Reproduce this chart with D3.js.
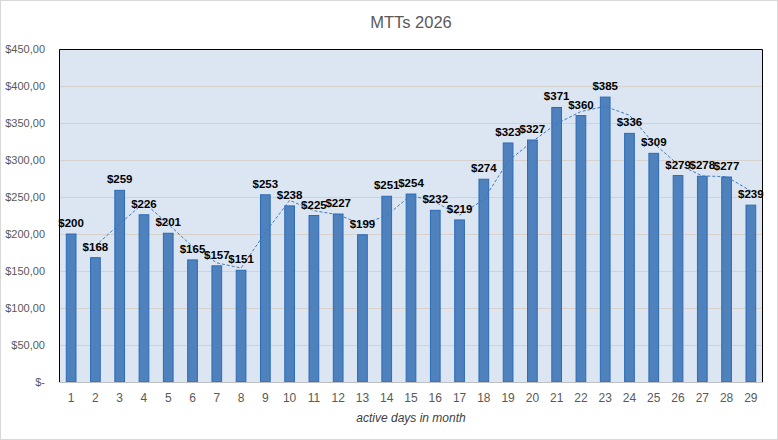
<!DOCTYPE html>
<html>
<head>
<meta charset="utf-8">
<script src="https://cdn.jsdelivr.net/npm/d3@7"></script>
<style>
  body { margin: 0; background: #fff; }
  text { font-family: "Liberation Sans", Arial, sans-serif; }
</style>
</head>
<body>
<svg id="chart" width="778" height="440"></svg>
<script>
// chart values
const days = [1, 2, 3, 4, 5, 6, 7, 8, 9, 10, 11, 12, 13, 14, 15, 16, 17, 18, 19, 20, 21, 22, 23, 24, 25, 26, 27, 28, 29];
const mtt = [200, 168, 259, 226, 201, 165, 157, 151, 253, 238, 225, 227, 199, 251, 254, 232, 219, 274, 323, 327, 371, 360, 385, 336, 309, 279, 278, 277, 239];
// dashed trend (2 day moving average), starts on day 2
const trendDays = [2, 3, 4, 5, 6, 7, 8, 9, 10, 11, 12, 13, 14, 15, 16, 17, 18, 19, 20, 21, 22, 23, 24, 25, 26, 27, 28, 29];
const trend = [184, 213.5, 242.5, 213.5, 183, 161, 154, 202, 245.5, 231.5, 226, 213, 225, 252.5, 243, 225.5, 246.5, 298.5, 325, 349, 365.5, 372.5, 360.5, 322.5, 294, 278.5, 277.5, 258];
const yTicks = [0, 50, 100, 150, 200, 250, 300, 350, 400, 450];

const svg = d3.select('#chart');
const width = +svg.attr('width');
const height = +svg.attr('height');

const plot = {left: 59, top: 49, right: 763, bottom: 382};

const x = d3.scaleBand()
    .domain(days)
    .range([plot.left, plot.right])
    .paddingInner(0.6)
    .paddingOuter(0.3);

const y = d3.scaleLinear()
    .domain([0, 450])
    .range([plot.bottom, plot.top]);

// outer chart border
svg.append('rect')
    .attr('x', 0.5).attr('y', 0.5)
    .attr('width', width - 1).attr('height', height - 1)
    .attr('fill', '#fff')
    .attr('stroke', '#d9d9d9');

// plot area background
svg.append('rect')
    .attr('x', plot.left).attr('y', plot.top)
    .attr('width', plot.right - plot.left)
    .attr('height', plot.bottom - plot.top)
    .attr('fill', '#dce6f2');

// gridlines + y labels
const yAxis = d3.axisLeft(y)
    .tickValues(yTicks)
    .tickSize(-(plot.right - plot.left))
    .tickPadding(14)
    .tickFormat(d => d === 0 ? '$-' : '$' + d3.format('.2f')(d).replace('.', ','));

const yG = svg.append('g')
    .attr('transform', `translate(${plot.left},0)`)
    .call(yAxis);
yG.select('.domain').remove();
yG.selectAll('line').attr('stroke', '#d6d1cc').attr('stroke-width', 1);
yG.selectAll('text')
    .attr('fill', '#595959')
    .attr('font-size', 11);

// bars
svg.append('g')
    .selectAll('rect')
    .data(mtt)
    .enter()
    .append('rect')
    .attr('x', (d, i) => x(days[i]))
    .attr('y', d => y(d))
    .attr('width', x.bandwidth())
    .attr('height', d => y(0) - y(d))
    .attr('fill', '#4f81bd')
    .attr('stroke', '#2a6bb8')
    .attr('stroke-width', 1);

// trend line
const trendLine = d3.line()
    .x((d, i) => x(trendDays[i]) + x.bandwidth() / 2)
    .y(d => y(d));

svg.append('path')
    .datum(trend)
    .attr('d', trendLine)
    .attr('fill', 'none')
    .attr('stroke', '#3f78bf')
    .attr('stroke-width', 1)
    .attr('stroke-dasharray', '3,2');

// value labels
svg.append('g')
    .selectAll('text')
    .data(mtt)
    .enter()
    .append('text')
    .attr('x', (d, i) => x(days[i]) + x.bandwidth() / 2)
    .attr('y', d => y(d) - 7)
    .attr('text-anchor', 'middle')
    .attr('font-size', 11.5)
    .attr('font-weight', 'bold')
    .attr('fill', '#000')
    .text(d => '$' + d);

// plot border: black on left/top/right, gray baseline
svg.append('path')
    .attr('d', `M${plot.left + 0.5},${plot.bottom} V${plot.top + 0.5} H${plot.right - 0.5} V${plot.bottom}`)
    .attr('fill', 'none')
    .attr('stroke', '#000')
    .attr('stroke-width', 1);

// x axis
const xAxis = d3.axisBottom(x).tickSize(0).tickPadding(11);
const xG = svg.append('g')
    .attr('transform', `translate(0,${plot.bottom})`)
    .call(xAxis);
xG.select('.domain').attr('stroke', '#bfbfbf');
xG.selectAll('text').attr('fill', '#595959').attr('font-size', 12);

// titles
svg.append('text')
    .attr('x', (plot.left + plot.right) / 2)
    .attr('y', 28)
    .attr('text-anchor', 'middle')
    .attr('font-size', 16.5)
    .attr('fill', '#595959')
    .text('MTTs 2026');

svg.append('text')
    .attr('x', (plot.left + plot.right) / 2)
    .attr('y', 422)
    .attr('text-anchor', 'middle')
    .attr('font-size', 12)
    .attr('font-style', 'italic')
    .attr('fill', '#404040')
    .text('active days in month');
</script>
</body>
</html>
